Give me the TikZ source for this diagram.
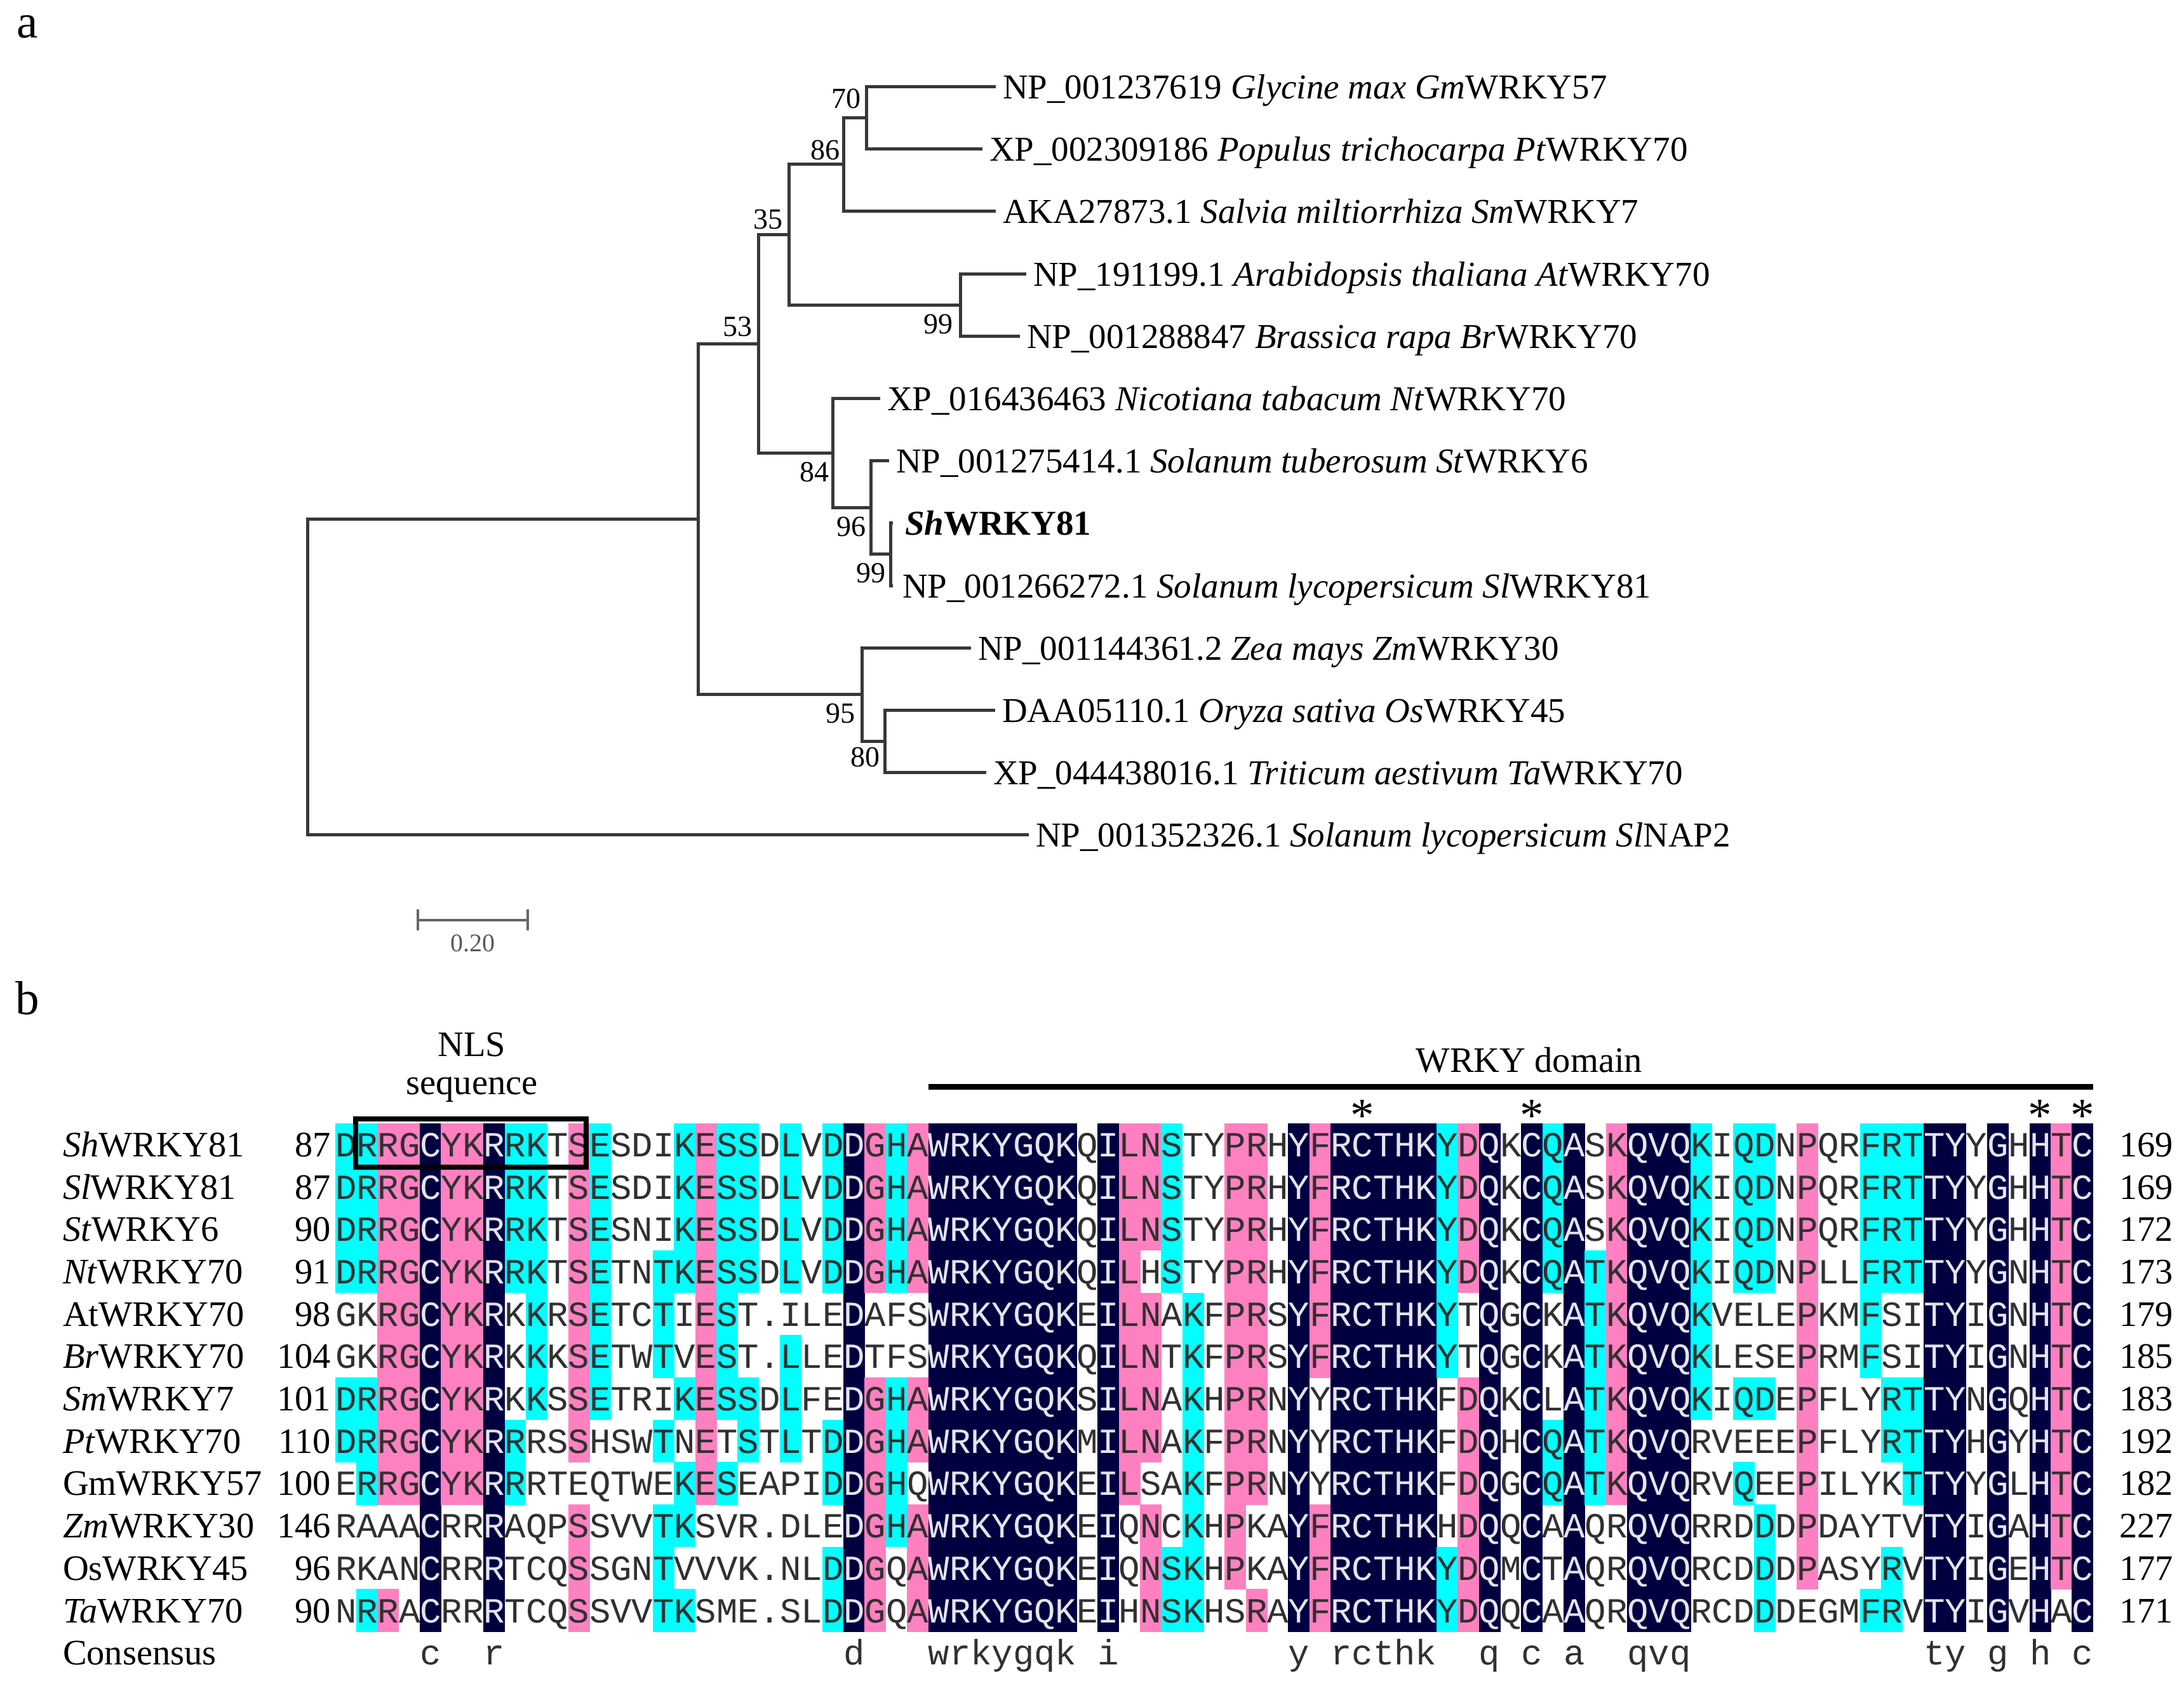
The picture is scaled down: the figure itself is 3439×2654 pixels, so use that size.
\documentclass[tikz,border=0pt]{standalone}
\usepackage{fontspec}
\setmainfont{Liberation Serif}
\newfontfamily\alnmono{Liberation Mono}
\usetikzlibrary{calc}
\definecolor{alnnavy}{HTML}{000040}
\definecolor{alnpink}{HTML}{FF80C0}
\definecolor{alncyan}{HTML}{00FFFF}
\definecolor{alnlight}{HTML}{E4E4EC}
\definecolor{alndark}{HTML}{303030}
\definecolor{treegray}{HTML}{383838}
\tikzset{
  treeline/.style={draw=treegray, line width=1.0pt},
  leaflab/.style={font=\fontsize{11.0}{13}\selectfont, inner sep=0pt, anchor=base west},
  bootlab/.style={font=\fontsize{9.2}{11}\selectfont, inner sep=0pt},
  seqlab/.style={font=\fontsize{11.3}{13}\selectfont, inner sep=0pt},
  alnletter/.style={font=\alnmono\fontsize{11.12}{12}\selectfont, inner sep=0pt, anchor=base},
  panellab/.style={font=\fontsize{15}{17}\selectfont, inner sep=0pt, anchor=base west},
  starlab/.style={font=\fontsize{15}{17}\selectfont, inner sep=0pt, anchor=base},
}
\newcommand\alnfill[3]{\fill[fill=#3] ({528+(#1-1)*33.35-0.3},{1769+(#2-1)*66.7-0.3}) rectangle ++(33.95,67.3);}
\newcommand\alnchar[4]{\node[alnletter,text=#3] at ({528+(#1-0.5)*33.35},{1769+(#2-0.5)*66.7+19}) {#4};}

\ExplSyntaxOn
\cs_generate_variant:Nn \str_item:Nn { c }
\cs_generate_variant:Nn \str_const:Nn { c }
\int_new:N \l_aln_count_int
\str_new:N \l_aln_char_str
\tl_new:N \l_aln_colour_tl
\cs_new_protected:Npn \aln_row:nn #1#2 { \str_const:cn { c_aln_row_#1_str } { #2 } }
\aln_row:nn {1} {DRRGCYKRRKTSESDIKESSDLVDDGHAWRKYGQKQILNSTYPRHYFRCTHKYDQKCQASKQVQKIQDNPQRFRTTYYGHHTC}
\aln_row:nn {2} {DRRGCYKRRKTSESDIKESSDLVDDGHAWRKYGQKQILNSTYPRHYFRCTHKYDQKCQASKQVQKIQDNPQRFRTTYYGHHTC}
\aln_row:nn {3} {DRRGCYKRRKTSESNIKESSDLVDDGHAWRKYGQKQILNSTYPRHYFRCTHKYDQKCQASKQVQKIQDNPQRFRTTYYGHHTC}
\aln_row:nn {4} {DRRGCYKRRKTSETNTKESSDLVDDGHAWRKYGQKQILHSTYPRHYFRCTHKYDQKCQATKQVQKIQDNPLLFRTTYYGNHTC}
\aln_row:nn {5} {GKRGCYKRKKRSETCTIEST.ILEDAFSWRKYGQKEILNAKFPRSYFRCTHKYTQGCKATKQVQKVELEPKMFSITYIGNHTC}
\aln_row:nn {6} {GKRGCYKRKKKSETWTVEST.LLEDTFSWRKYGQKQILNTKFPRSYFRCTHKYTQGCKATKQVQKLESEPRMFSITYIGNHTC}
\aln_row:nn {7} {DRRGCYKRKKSSETRIKESSDLFEDGHAWRKYGQKSILNAKHPRNYYRCTHKFDQKCLATKQVQKIQDEPFLYRTTYNGQHTC}
\aln_row:nn {8} {DRRGCYKRRRSSHSWTNETSTLTDDGHAWRKYGQKMILNAKFPRNYYRCTHKFDQHCQATKQVQRVEEEPFLYRTTYHGYHTC}
\aln_row:nn {9} {ERRGCYKRRRTEQTWEKESEAPIDDGHQWRKYGQKEILSAKFPRNYYRCTHKFDQGCQATKQVQRVQEEPILYKTTYYGLHTC}
\aln_row:nn {10} {RAAACRRRAQPSSVVTKSVR.DLEDGHAWRKYGQKEIQNCKHPKAYFRCTHKHDQQCAAQRQVQRRDDDPDAYTVTYIGAHTC}
\aln_row:nn {11} {RKANCRRRTCQSSGNTVVVK.NLDDGQAWRKYGQKEIQNSKHPKAYFRCTHKYDQMCTAQRQVQRCDDDPASYRVTYIGEHTC}
\aln_row:nn {12} {NRRACRRRTCQSSVVTKSME.SLDDGQAWRKYGQKEIHNSKHSRAYFRCTHKYDQQCAAQRQVQRCDDDEGMFRVTYIGVHAC}
\cs_new_protected:Npn \aln_count:nn #1#2
  {
    \str_set:Nx \l_aln_char_str { \str_item:cn { c_aln_row_#2_str } { #1 } }
    \int_zero:N \l_aln_count_int
    \str_if_eq:eeF { \l_aln_char_str } { . }
      {
        \int_step_inline:nn { 12 }
          {
            \str_if_eq:eeT { \str_item:cn { c_aln_row_##1_str } { #1 } } { \l_aln_char_str }
              { \int_incr:N \l_aln_count_int }
          }
      }
  }
\cs_new_protected:Npn \aln_pick:
  {
    \int_compare:nNnTF \l_aln_count_int = { 12 }
      { \tl_set:Nn \l_aln_colour_tl { alnnavy } }
      {
        \int_compare:nNnTF \l_aln_count_int > { 8 }
          { \tl_set:Nn \l_aln_colour_tl { alnpink } }
          {
            \int_compare:nNnTF \l_aln_count_int > { 5 }
              { \tl_set:Nn \l_aln_colour_tl { alncyan } }
              { \tl_clear:N \l_aln_colour_tl }
          }
      }
  }
\cs_new_protected:Npn \aln_draw_fills:
  {
    \int_step_inline:nn { 83 }
      {
        \int_step_inline:nn { 12 }
          {
            \aln_count:nn { ##1 } { ####1 }
            \aln_pick:
            \tl_if_empty:NF \l_aln_colour_tl
              { \alnfill { ##1 } { ####1 } { \l_aln_colour_tl } }
          }
      }
  }
\cs_new_protected:Npn \aln_draw_text:
  {
    \int_step_inline:nn { 83 }
      {
        \int_step_inline:nn { 12 }
          {
            \aln_count:nn { ##1 } { ####1 }
            \int_compare:nNnTF \l_aln_count_int = { 12 }
              { \alnchar { ##1 } { ####1 } { alnlight } { \l_aln_char_str } }
              { \alnchar { ##1 } { ####1 } { alndark } { \l_aln_char_str } }
          }
        \aln_count:nn { ##1 } { 1 }
        \int_compare:nNnT \l_aln_count_int = { 12 }
          { \alnchar { ##1 } { 13 } { alndark } { \text_lowercase:n { \l_aln_char_str } } }
      }
  }
\cs_set_eq:NN \AlnFills \aln_draw_fills:
\cs_set_eq:NN \AlnTexts \aln_draw_text:
\ExplSyntaxOff

\begin{document}
\begin{tikzpicture}[x=0.2pt,y=-0.2pt]
\useasboundingbox (0,0) rectangle (3439,2654);
\fill[white] (0,0) rectangle (3439,2654);

% ---------- panel a : tree ----------
\node[panellab] (pa) at (25,59) {a};

\coordinate (n0) at (484,1065.5);
\coordinate (n1) at (1099,817);
\coordinate (n2) at (1194,541);
\coordinate (n3) at (1242,369);
\coordinate (n4) at (1328,258.5);
\coordinate (n5) at (1364,185);
\coordinate (n6) at (1512,480);
\coordinate (n7) at (1311,713);
\coordinate (n8) at (1371,799);
\coordinate (n9) at (1402,872.5);
\coordinate (n10) at (1357,1093.5);
\coordinate (n11) at (1393,1167);

\coordinate (tGm) at (1568,136);
\coordinate (tPt) at (1547,234);
\coordinate (tSm) at (1568,332);
\coordinate (tAt) at (1616,431);
\coordinate (tBr) at (1606,529);
\coordinate (tNt) at (1386,627);
\coordinate (tSt) at (1400,725);
\coordinate (tSh) at (1406,823);
\coordinate (tSl) at (1406,922);
\coordinate (tZm) at (1529,1020);
\coordinate (tOs) at (1567,1118);
\coordinate (tTa) at (1553,1216);
\coordinate (tOut) at (1620,1314);

\foreach \p/\c in {n0/n1,n0/tOut,n1/n2,n1/n10,n2/n3,n2/n7,n3/n4,n3/n6,n4/n5,n4/tSm,
  n5/tGm,n5/tPt,n6/tAt,n6/tBr,n7/tNt,n7/n8,n8/tSt,n8/n9,n9/tSh,n9/tSl,
  n10/tZm,n10/n11,n11/tOs,n11/tTa}
  \draw[treeline] (\p) |- (\c);

\node[leaflab] (lGm) at ($(tGm)+(10,19)$) {NP\_001237619 \textit{Glycine max Gm}WRKY57};
\node[leaflab] (lPt) at ($(tPt)+(10,19)$) {XP\_002309186 \textit{Populus trichocarpa Pt}WRKY70};
\node[leaflab] (lSm) at ($(tSm)+(10,19)$) {AKA27873.1 \textit{Salvia miltiorrhiza Sm}WRKY7};
\node[leaflab] (lAt) at ($(tAt)+(10,19)$) {NP\_191199.1 \textit{Arabidopsis thaliana At}WRKY70};
\node[leaflab] (lBr) at ($(tBr)+(10,19)$) {NP\_001288847 \textit{Brassica rapa Br}WRKY70};
\node[leaflab] (lNt) at ($(tNt)+(10,19)$) {XP\_016436463 \textit{Nicotiana tabacum Nt}WRKY70};
\node[leaflab] (lSt) at ($(tSt)+(10,19)$) {NP\_001275414.1 \textit{Solanum tuberosum St}WRKY6};
\node[leaflab] (lSh) at ($(tSh)+(18,19)$) {\textbf{\textit{Sh}WRKY81}};
\node[leaflab] (lSl) at ($(tSl)+(14,19)$) {NP\_001266272.1 \textit{Solanum lycopersicum Sl}WRKY81};
\node[leaflab] (lZm) at ($(tZm)+(10,19)$) {NP\_001144361.2 \textit{Zea mays Zm}WRKY30};
\node[leaflab] (lOs) at ($(tOs)+(10,19)$) {DAA05110.1 \textit{Oryza sativa Os}WRKY45};
\node[leaflab] (lTa) at ($(tTa)+(10,19)$) {XP\_044438016.1 \textit{Triticum aestivum Ta}WRKY70};
\node[leaflab] (lOut) at ($(tOut)+(10,19)$) {NP\_001352326.1 \textit{Solanum lycopersicum Sl}NAP2};

% bootstrap values
\node[bootlab,anchor=base east] (b2) at ($(n2)+(-9,-12)$) {53};
\node[bootlab,anchor=base east] (b3) at ($(n3)+(-9,-9)$) {35};
\node[bootlab,anchor=base east] (b4) at ($(n4)+(-5,-7)$) {86};
\node[bootlab,anchor=base east] (b5) at ($(n5)+(-8,-15)$) {70};
\node[bootlab,anchor=north east] (b6) at ($(n6)+(-11,14)$) {99};
\node[bootlab,anchor=north east] (b7) at ($(n7)+(-5,14)$) {84};
\node[bootlab,anchor=north east] (b8) at ($(n8)+(-7,14)$) {96};
\node[bootlab,anchor=north east] (b9) at ($(n9)+(-7,14)$) {99};
\node[bootlab,anchor=north east] (b10) at ($(n10)+(-10,14)$) {95};
\node[bootlab,anchor=north east] (b11) at ($(n11)+(-7,9)$) {80};

% scale bar
\coordinate (sb1) at (658,1449);
\coordinate (sb2) at (831,1449);
\draw[draw=gray!80!black, line width=0.95pt] (sb1) -- (sb2);
\draw[draw=gray!80!black, line width=0.7pt] ($(sb1)+(0,-17)$) -- ($(sb1)+(0,16)$);
\draw[draw=gray!80!black, line width=0.7pt] ($(sb2)+(0,-17)$) -- ($(sb2)+(0,16)$);
\node[font=\fontsize{8}{9}\selectfont, text=gray!70!black, inner sep=0pt] (sbl) at (744,1485) {0.20};

% ---------- panel b : alignment ----------
\node[panellab] (pb) at (23,1597) {b};

\AlnFills
\AlnTexts

\foreach \r/\nm/\st/\en in {
 1/{\textit{Sh}WRKY81}/87/169,
 2/{\textit{Sl}WRKY81}/87/169,
 3/{\textit{St}WRKY6}/90/172,
 4/{\textit{Nt}WRKY70}/91/173,
 5/{AtWRKY70}/98/179,
 6/{\textit{Br}WRKY70}/104/185,
 7/{\textit{Sm}WRKY7}/101/183,
 8/{\textit{Pt}WRKY70}/110/192,
 9/{GmWRKY57}/100/182,
 10/{\textit{Zm}WRKY30}/146/227,
 11/{OsWRKY45}/96/177,
 12/{\textit{Ta}WRKY70}/90/171}
{
 \node[seqlab, anchor=base west] (name\r) at (98,{1769+(\r-0.5)*66.7+19}) {\nm};
 \node[seqlab, anchor=base east] (start\r) at (522,{1769+(\r-0.5)*66.7+19}) {\st};
 \node[seqlab, anchor=base west] (end\r) at (3336,{1769+(\r-0.5)*66.7+19}) {\en};
}
\node[seqlab, anchor=base west] (cons) at (98,{1769+12.5*66.7+19}) {Consensus};

% NLS box and header
\draw[line width=1.6pt] (560,1761.5) rectangle (923,1838);
\node[seqlab] (nls1) at (743,1645) {NLS};
\node[seqlab] (nls2) at (743,1716) {sequence};

% WRKY domain bar
\coordinate (wd1) at (1462,1711);
\coordinate (wd2) at (3296,1711);
\draw[line width=1.8pt] (wd1) -- (wd2);
\node[seqlab] (wdl) at (2408,1669) {WRKY domain};

% asterisks
\foreach \c in {49,57,81,83}
  \node[starlab] (star\c) at ({528+(\c-0.5)*33.35},1781) {*};
\end{tikzpicture}
\end{document}
